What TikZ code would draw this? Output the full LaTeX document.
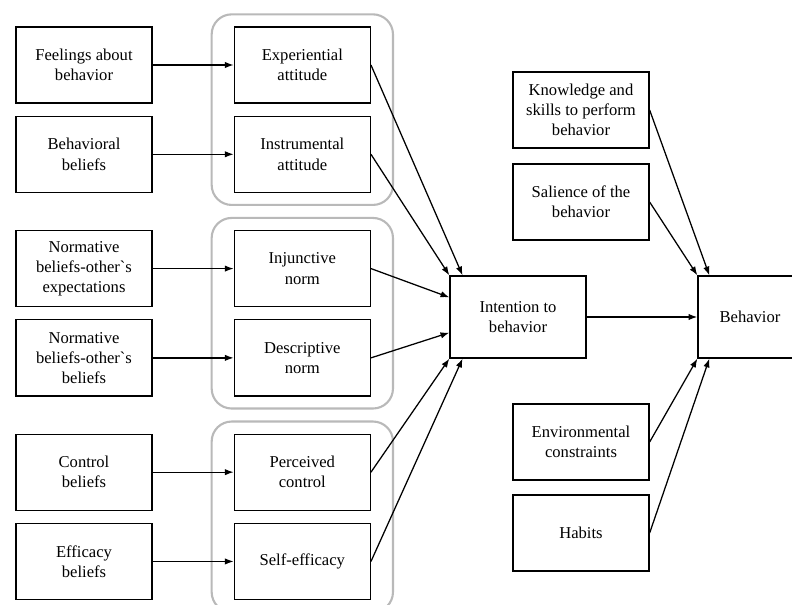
\documentclass[tikz,border=0pt]{standalone}
\usepackage{fontspec}
\setmainfont{Liberation Serif}
\usepackage{tikz}
\usetikzlibrary{arrows.meta, positioning, fit}

\begin{document}
\begin{tikzpicture}[
      x=0.025cm, y=-0.025cm,
      >={Latex[length=2.2mm,width=1.6mm]},
      node distance=0.3cm and 2.025cm,
      box/.style={
        rectangle, draw, line width=0.9pt, align=center, inner sep=2pt,
        minimum width=3.4cm, minimum height=1.9cm,
        font=\fontsize{11.8}{14.4}\selectfont
      },
      group/.style={
        draw=gray!55, line width=1.5pt, rounded corners=0.5cm,
        inner xsep=0.55cm, inner ysep=0.3cm
      },
      link/.style={->, line width=0.9pt}
    ]
    \useasboundingbox (0,0) rectangle (792,605);

    % left column
    \node[box] (feel) at (84,65) {Feelings about\\behavior};
    \node[box, below=of feel] (behbel) {Behavioral\\beliefs};
    \node[box, below=0.925cm of behbel] (normexp) {Normative\\beliefs-other\textasciigrave s\\expectations};
    \node[box, below=of normexp] (normbel) {Normative\\beliefs-other\textasciigrave s\\beliefs};
    \node[box, below=0.925cm of normbel] (ctrlbel) {Control\\beliefs};
    \node[box, below=of ctrlbel] (effbel) {Efficacy\\beliefs};

    % middle column
    \node[box, right=of feel] (exp) {Experiential\\attitude};
    \node[box, right=of behbel] (inst) {Instrumental\\attitude};
    \node[box, right=of normexp] (inj) {Injunctive\\norm};
    \node[box, right=of normbel] (desc) {Descriptive\\norm};
    \node[box, right=of ctrlbel] (pc) {Perceived\\control};
    \node[box, right=of effbel] (se) {Self-efficacy};

    \node[group, fit=(exp)(inst)] (attgrp) {};
    \node[group, fit=(inj)(desc)] (normgrp) {};
    \node[group, fit=(pc)(se)] (ctrlgrp) {};

    % intention and behavior
    \node[box, minimum height=2.05cm] (int) at (518,317) {Intention to\\behavior};
    \node[box, minimum width=2.6cm, minimum height=2.05cm] (beh) at (750,317) {Behavior};

    % right column
    \node[box] (know) at (581,110) {Knowledge and\\skills to perform\\behavior};
    \node[box] (sal) at (581,202) {Salience of the\\behavior};
    \node[box] (env) at (581,442) {Environmental\\constraints};
    \node[box] (hab) at (581,533) {Habits};

    \draw[link] (feel) -- (exp);
    \draw[link] (behbel) -- (inst);
    \draw[link] (normexp) -- (inj);
    \draw[link] (normbel) -- (desc);
    \draw[link] (ctrlbel) -- (pc);
    \draw[link] (effbel) -- (se);

    \draw[link] (exp.east) -- ([xshift=0.33cm]int.north west);
    \draw[link] (inst.east) -- (int.north west);
    \draw[link] (inj.east) -- ([yshift=-0.55cm]int.north west);
    \draw[link] (desc.east) -- ([yshift=0.65cm]int.south west);
    \draw[link] (pc.east) -- (int.south west);
    \draw[link] (se.east) -- ([xshift=0.33cm]int.south west);

    \draw[link] (int) -- (beh);
    \draw[link] (know.east) -- ([xshift=0.3cm]beh.north west);
    \draw[link] (sal.east) -- (beh.north west);
    \draw[link] (env.east) -- (beh.south west);
    \draw[link] (hab.east) -- ([xshift=0.3cm]beh.south west);
  \end{tikzpicture}
\end{document}
